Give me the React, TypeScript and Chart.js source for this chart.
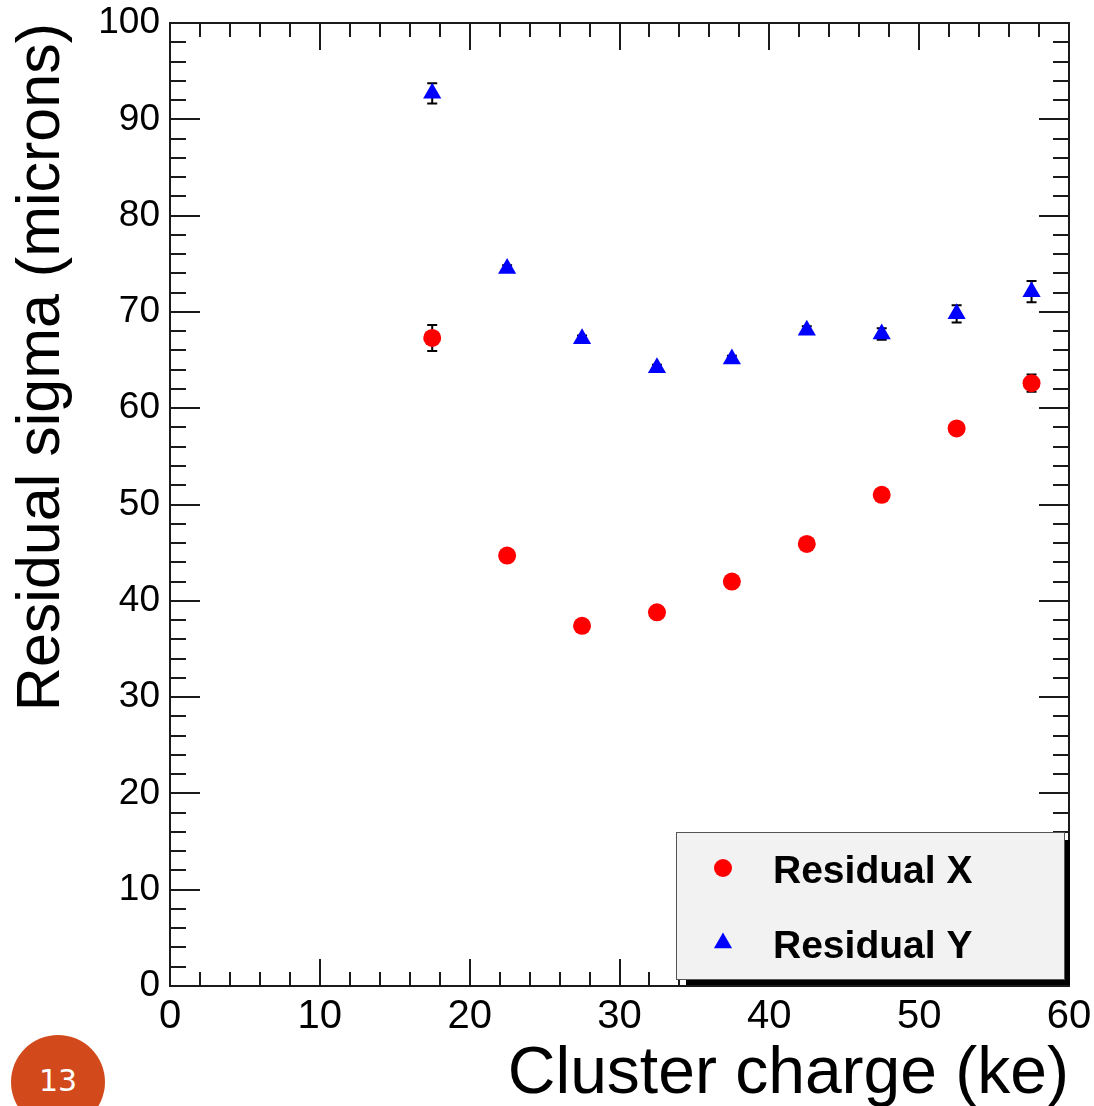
import React, { useEffect, useRef } from 'react';
import { Chart, registerables } from 'chart.js';

Chart.register(...registerables);

// ---- data ----
const charges = [17.5, 22.5, 27.5, 32.5, 37.5, 42.5, 47.5, 52.5, 57.5];
const residualX = [67.3, 44.7, 37.4, 38.8, 42.0, 45.9, 51.0, 57.9, 62.6];
const residualXErr = [1.35, 0.35, 0.3, 0.3, 0.35, 0.4, 0.5, 0.6, 0.9];
const residualY = [92.7, 74.5, 67.2, 64.2, 65.1, 68.1, 67.7, 69.8, 72.1];
const residualYErr = [1.05, 0.35, 0.35, 0.3, 0.35, 0.4, 0.6, 0.9, 1.1];
const seriesLabels = ['Residual X', 'Residual Y'];
const xTitle = 'Cluster charge (ke)';
const yTitle = 'Residual sigma (microns)';
const xRange = [0, 60];
const yRange = [0, 100];
const pageNumber = '13';

const FONT = "'Liberation Sans', Arial, Helvetica, sans-serif";
const INK = '#1a1a1a';

function drawMarker(ctx: CanvasRenderingContext2D, style: string, x: number, y: number, r: number, color: string) {
  ctx.fillStyle = color;
  ctx.beginPath();
  if (style === 'triangle') {
    let rad = 0;
    ctx.moveTo(x + Math.sin(rad) * r, y - Math.cos(rad) * r);
    rad += (2 * Math.PI) / 3;
    ctx.lineTo(x + Math.sin(rad) * r, y - Math.cos(rad) * r);
    rad += (2 * Math.PI) / 3;
    ctx.lineTo(x + Math.sin(rad) * r, y - Math.cos(rad) * r);
    ctx.closePath();
  } else {
    ctx.arc(x, y, r, 0, Math.PI * 2);
  }
  ctx.fill();
}

const rootFramePlugin = {
  id: 'rootFrame',
  beforeDatasetsDraw(chart: any) {
    const { ctx, chartArea: a, scales } = chart;
    const xs = scales.x;
    const ys = scales.y;
    ctx.save();
    ctx.strokeStyle = INK;
    ctx.lineWidth = 2;
    ctx.beginPath();
    for (let v = xs.min; v <= xs.max + 1e-9; v += 2) {
      const px = Math.round(xs.getPixelForValue(v));
      const len = Math.abs(v % 10) < 1e-9 ? 27 : 14;
      ctx.moveTo(px, a.bottom);
      ctx.lineTo(px, a.bottom - len);
      ctx.moveTo(px, a.top);
      ctx.lineTo(px, a.top + len);
    }
    for (let v = ys.min; v <= ys.max + 1e-9; v += 2) {
      const py = Math.round(ys.getPixelForValue(v));
      const len = Math.abs(v % 10) < 1e-9 ? 30 : 16;
      ctx.moveTo(a.left, py);
      ctx.lineTo(a.left + len, py);
      ctx.moveTo(a.right, py);
      ctx.lineTo(a.right - len, py);
    }
    ctx.stroke();
    ctx.strokeRect(a.left, a.top, a.right - a.left, a.bottom - a.top);

    // error bars
    ctx.strokeStyle = '#000';
    ctx.lineWidth = 2;
    chart.data.datasets.forEach((ds: any) => {
      const errs: number[] = ds.errors || [];
      ds.data.forEach((p: any, i: number) => {
        const e = errs[i] || 0;
        const px = xs.getPixelForValue(p.x);
        const y1 = ys.getPixelForValue(p.y + e);
        const y2 = ys.getPixelForValue(p.y - e);
        ctx.beginPath();
        ctx.moveTo(px, y1);
        ctx.lineTo(px, y2);
        ctx.moveTo(px - 5, y1);
        ctx.lineTo(px + 5, y1);
        ctx.moveTo(px - 5, y2);
        ctx.lineTo(px + 5, y2);
        ctx.stroke();
      });
    });
    ctx.restore();
  },
  afterDraw(chart: any) {
    const { ctx, chartArea: a } = chart;
    const w = 389;
    const h = 148;
    const bx = a.right - 4 - w;
    const by = a.bottom - 6 - h;
    ctx.save();
    // shadow
    ctx.fillStyle = '#000';
    ctx.fillRect(bx + 10, by + 8, w - 5, h - 3);
    // box
    ctx.fillStyle = '#f2f2f2';
    ctx.fillRect(bx, by, w, h);
    ctx.strokeStyle = '#555';
    ctx.lineWidth = 1;
    ctx.strokeRect(bx + 0.5, by + 0.5, w - 1, h - 1);
    const rows = [36, 111];
    chart.data.datasets.forEach((ds: any, i: number) => {
      const cy = by + rows[i];
      drawMarker(ctx, ds.pointStyle, bx + 47, cy, ds.pointRadius, ds.backgroundColor);
      ctx.fillStyle = '#000';
      ctx.font = `bold 39px ${FONT}`;
      ctx.textBaseline = 'alphabetic';
      ctx.textAlign = 'left';
      ctx.fillText(ds.label, bx + 97, cy + 15);
    });
    ctx.restore();
  },
};

function zeroPadding(scale: any) {
  scale.paddingTop = 0;
  scale.paddingBottom = 0;
  scale.paddingLeft = 0;
  scale.paddingRight = 0;
}

export default function App() {
  const canvasRef = useRef<HTMLCanvasElement | null>(null);

  useEffect(() => {
    const canvas = canvasRef.current;
    if (!canvas) return;
    const chart = new Chart(canvas, {
      type: 'scatter',
      data: {
        datasets: [
          {
            label: seriesLabels[0],
            data: charges.map((c, i) => ({ x: c, y: residualX[i] })),
            errors: residualXErr,
            pointStyle: 'circle',
            pointRadius: 9,
            backgroundColor: '#ff0000',
            borderWidth: 0,
            showLine: false,
          } as any,
          {
            label: seriesLabels[1],
            data: charges.map((c, i) => ({ x: c, y: residualY[i] })),
            errors: residualYErr,
            pointStyle: 'triangle',
            pointRadius: 10.5,
            backgroundColor: '#0000ff',
            borderWidth: 0,
            showLine: false,
          } as any,
        ],
      },
      options: {
        animation: false,
        responsive: false,
        devicePixelRatio: 1,
        layout: { padding: { top: 23, right: 25, left: 0, bottom: 0 } },
        plugins: {
          legend: { display: false },
          tooltip: { enabled: false },
        },
        scales: {
          x: {
            type: 'linear',
            min: xRange[0],
            max: xRange[1],
            grid: { display: false, drawTicks: false },
            border: { display: false },
            ticks: {
              stepSize: 10,
              padding: 7,
              color: '#000',
              font: { family: FONT, size: 40 },
              maxRotation: 0,
            },
            title: {
              display: true,
              text: xTitle,
              align: 'end',
              color: '#000',
              font: { family: FONT, size: 66, lineHeight: 0.9 },
              padding: { top: 0, bottom: 2 },
            },
            afterFit(scale: any) {
              scale.height = 120;
              zeroPadding(scale);
            },
          },
          y: {
            type: 'linear',
            min: yRange[0],
            max: yRange[1],
            grid: { display: false, drawTicks: false },
            border: { display: false },
            ticks: {
              stepSize: 10,
              padding: 10,
              color: '#000',
              font: { family: FONT, size: 37, lineHeight: 1 },
            },
            title: {
              display: true,
              text: yTitle,
              align: 'end',
              color: '#000',
              font: { family: FONT, size: 61 },
              padding: { top: 6, bottom: 0 },
            },
            afterFit(scale: any) {
              scale.width = 170;
              zeroPadding(scale);
            },
          },
        },
      } as any,
      plugins: [rootFramePlugin],
    });
    return () => chart.destroy();
  }, []);

  return (
    <div style={{ position: 'fixed', left: 0, top: 0, width: 1094, height: 1106, overflow: 'hidden', background: '#fff' }}>
      <canvas ref={canvasRef} width={1094} height={1106} style={{ display: 'block', width: 1094, height: 1106 }} />
      <div
        style={{
          position: 'absolute',
          left: 11,
          top: 1035,
          width: 94,
          height: 94,
          borderRadius: '50%',
          background: '#d24a1b',
          color: '#fff',
          fontFamily: "'DejaVu Sans', sans-serif",
          fontSize: 30,
          display: 'flex',
          alignItems: 'flex-start',
          justifyContent: 'center',
          paddingTop: 28,
          boxSizing: 'border-box',
          lineHeight: '36px',
        }}
      >
        {pageNumber}
      </div>
    </div>
  );
}
